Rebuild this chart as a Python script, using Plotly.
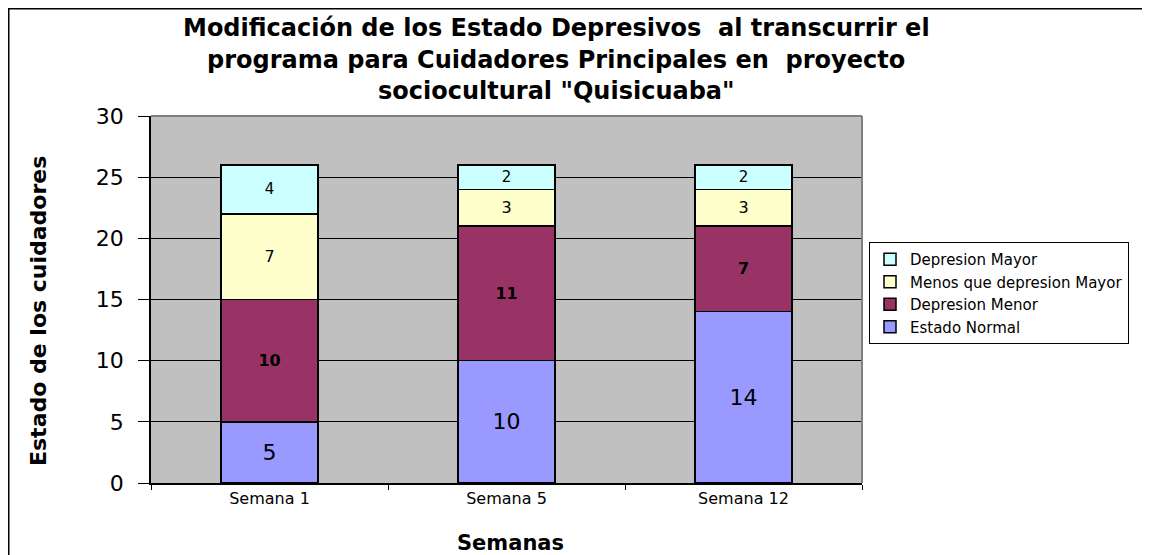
import plotly.graph_objects as go

categories = ["Semana 1", "Semana 5", "Semana 12"]
estado_normal = [5, 10, 14]
depresion_menor = [10, 11, 7]
menos_que_mayor = [7, 3, 3]
depresion_mayor = [4, 2, 2]
y_ticks = [0, 5, 10, 15, 20, 25, 30]

# page body has an 8px margin: figure origin sits at screen (8, 8)
OFF = 8
W, H = 1150 - OFF, 555 - OFF
L, T = 151 - OFF, 116 - OFF
R = W - (862 - OFF)
B = H - (483 - OFF)
PW, PH = W - L - R, H - T - B

def px_x(sx):  # screen px -> paper
    return (sx - OFF - L) / PW

def px_y(sy):
    return (H - B - (sy - OFF)) / PH

FONT = "DejaVu Sans, Verdana, sans-serif"

series = [
    ("Estado Normal", estado_normal, "#9999FF", dict(size=22, color="black"), "%{y}"),
    ("Depresion Menor", depresion_menor, "#993366", dict(size=16, color="black"), "<b>%{y}</b>"),
    ("Menos que depresion Mayor", menos_que_mayor, "#FFFFCC", dict(size=16, color="black"), "%{y}"),
    ("Depresion Mayor", depresion_mayor, "#CCFFFF", dict(size=15, color="black"), "%{y}"),
]

fig = go.Figure()
for name, vals, col, tf, tt in series:
    fig.add_trace(go.Bar(
        x=categories, y=vals, name=name,
        marker=dict(color=col, line=dict(color="black", width=1.5)),
        width=0.41,
        text=vals, texttemplate=tt, textposition="inside",
        insidetextanchor="middle", textangle=0,
        textfont=dict(family=FONT, **tf),
        constraintext="none",
        hoverinfo="skip",
    ))

title_lines = [
    ("Modificación de los Estado Depresivos  al transcurrir el", 28),
    ("programa para Cuidadores Principales en  proyecto", 60),
    ("sociocultural \"Quisicuaba\"", 91),
]
annotations = []
for txt, sy in title_lines:
    annotations.append(dict(
        text="<b>" + txt + "</b>", xref="paper", yref="paper",
        x=px_x(556), y=px_y(sy), xanchor="center", yanchor="middle",
        showarrow=False, font=dict(family=FONT, size=24, color="black"),
    ))
annotations.append(dict(
    text="<b>Estado de los cuidadores</b>", xref="paper", yref="paper",
    x=px_x(38), y=px_y(311), xanchor="center", yanchor="middle", textangle=-90,
    showarrow=False, font=dict(family=FONT, size=22, color="black"),
))
annotations.append(dict(
    text="<b>Semanas</b>", xref="paper", yref="paper",
    x=px_x(510), y=px_y(543), xanchor="center", yanchor="middle",
    showarrow=False, font=dict(family=FONT, size=21, color="black"),
))

shapes = [
    # outer chart border (left & top visible)
    dict(type="rect", xref="paper", yref="paper",
         x0=px_x(8.5), x1=px_x(1170), y0=px_y(590), y1=px_y(8.5),
         line=dict(color="black", width=2), layer="below"),
    # plot area top/right border
    dict(type="line", xref="paper", yref="paper", x0=0, x1=1, y0=1, y1=1,
         line=dict(color="#808080", width=2)),
    dict(type="line", xref="paper", yref="paper", x0=1, x1=1, y0=0, y1=1,
         line=dict(color="#808080", width=2)),
]

fig.update_layout(
    width=W, height=H,
    margin=dict(l=L, r=R, t=T, b=B),
    barmode="stack",
    paper_bgcolor="white",
    plot_bgcolor="#C0C0C0",
    font=dict(family=FONT, color="black"),
    showlegend=True,
    legend=dict(
        traceorder="reversed",
        x=px_x(869), y=px_y(242), xanchor="left", yanchor="top",
        bordercolor="black", borderwidth=1, bgcolor="white",
        font=dict(family=FONT, size=15, color="black"),
        itemwidth=30, tracegroupgap=0,
    ),
    xaxis=dict(
        type="category", tickson="boundaries", ticks="outside", ticklen=5,
        tickcolor="black", showline=True, linecolor="black", linewidth=1.5,
        showgrid=False, tickfont=dict(family=FONT, size=16, color="black"),
        range=[-0.5, 2.5],
    ),
    yaxis=dict(
        range=[0, 30], tickvals=y_ticks, ticks="outside", ticklen=11,
        tickcolor="black", showline=True, linecolor="black", linewidth=1.5,
        showgrid=True, gridcolor="black", gridwidth=1, zeroline=False,
        tickfont=dict(family=FONT, size=22, color="black"),
        ticklabelstandoff=10,
    ),
    annotations=annotations,
    shapes=shapes,
)

fig.write_html("out.html")
